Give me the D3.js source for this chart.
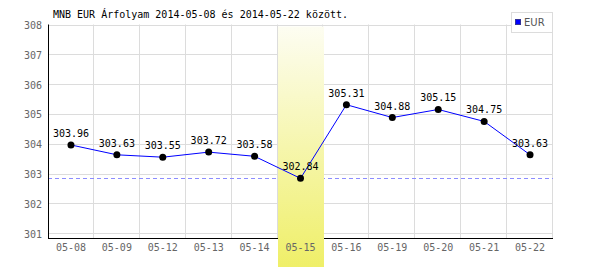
<!DOCTYPE html>
<html>
    <head>
        <meta charset="utf-8">
        <script src="https://cdn.jsdelivr.net/npm/d3@7/dist/d3.min.js"></script>
    </head>
    <style>
        body { margin: 0; background: #fff; }
        text { font-family: 'DejaVu Sans Mono', monospace; font-size: 10px; }
    </style>
    <body>
        <div id="canvas"></div>
        <script>
            var dates = ['05-08', '05-09', '05-12', '05-13', '05-14', '05-15',
                         '05-16', '05-19', '05-20', '05-21', '05-22'];
            var eurRates = [303.96, 303.63, 303.55, 303.72, 303.58, 302.84,
                            305.31, 304.88, 305.15, 304.75, 303.63];
            var yTicks = [301, 302, 303, 304, 305, 306, 307, 308];
            var highlightDate = '05-15';
            var title = 'MNB EUR Árfolyam 2014-05-08 és 2014-05-22 között.';

            const w = 600;
            const h = 270;
            const plotLeft = 48, plotRight = 553, plotTop = 24.5, plotBottom = 238;

            const svg = d3.select('#canvas')
                .append('svg')
                .attr('width', w)
                .attr('height', h);

            const x = d3.scaleBand().domain(dates).range([plotLeft, plotRight]);
            const minRate = d3.min(eurRates);
            const y = d3.scaleLinear()
                .domain([minRate - 2, 308])
                .range([plotBottom, plotTop]);

            const defs = svg.append('defs');
            const grad = defs.append('linearGradient')
                .attr('id', 'hl')
                .attr('x1', 0).attr('y1', 0).attr('x2', 0).attr('y2', 1);
            grad.append('stop').attr('offset', '0%').attr('stop-color', '#fdfdf2');
            grad.append('stop').attr('offset', '100%').attr('stop-color', '#efef68');

            // grid
            svg.selectAll('line.hgrid')
                .data(yTicks)
                .enter()
                .append('line')
                .attr('class', 'hgrid')
                .attr('x1', plotLeft)
                .attr('x2', plotRight)
                .attr('y1', d => Math.round(y(d)) + 0.5)
                .attr('y2', d => Math.round(y(d)) + 0.5)
                .attr('stroke', '#dcdcdc');

            svg.selectAll('line.vgrid')
                .data(dates)
                .enter()
                .append('line')
                .attr('class', 'vgrid')
                .attr('x1', d => Math.round(x(d) + x.bandwidth()) - 0.5)
                .attr('x2', d => Math.round(x(d) + x.bandwidth()) - 0.5)
                .attr('y1', plotTop)
                .attr('y2', plotBottom)
                .attr('stroke', '#dcdcdc');

            // minimum line
            svg.append('line')
                .attr('x1', plotLeft)
                .attr('x2', plotRight)
                .attr('y1', Math.round(y(minRate)) + 0.5)
                .attr('y2', Math.round(y(minRate)) + 0.5)
                .attr('stroke', '#8c8cff')
                .attr('stroke-dasharray', '4,3');

            // axes lines
            svg.append('line')
                .attr('x1', plotLeft + 0.5).attr('x2', plotLeft + 0.5)
                .attr('y1', plotTop).attr('y2', plotBottom + 1)
                .attr('stroke', '#000');
            svg.append('line')
                .attr('x1', plotLeft).attr('x2', plotRight)
                .attr('y1', plotBottom + 0.5).attr('y2', plotBottom + 0.5)
                .attr('stroke', '#000');

            // highlighted day
            svg.append('rect')
                .attr('x', Math.round(x(highlightDate)))
                .attr('y', plotTop + 2)
                .attr('width', Math.round(x.bandwidth()))
                .attr('height', 267 - plotTop - 2)
                .attr('fill', 'url(#hl)');

            // tick labels
            svg.selectAll('text.ylab')
                .data(yTicks)
                .enter()
                .append('text')
                .attr('class', 'ylab')
                .attr('x', 42)
                .attr('y', d => y(d) + 4.5)
                .attr('text-anchor', 'end')
                .attr('fill', '#666')
                .text(d => d);

            svg.selectAll('text.xlab')
                .data(dates)
                .enter()
                .append('text')
                .attr('class', 'xlab')
                .attr('x', d => x(d) + x.bandwidth() / 2)
                .attr('y', 251)
                .attr('text-anchor', 'middle')
                .attr('fill', '#666')
                .text(d => d);

            // data line
            const line = d3.line()
                .x((d, i) => x(dates[i]) + x.bandwidth() / 2)
                .y(d => y(d));
            svg.append('path')
                .datum(eurRates)
                .attr('d', line)
                .attr('fill', 'none')
                .attr('stroke', '#0000ff')
                .attr('stroke-width', 1);

            svg.selectAll('circle')
                .data(eurRates)
                .enter()
                .append('circle')
                .attr('cx', (d, i) => x(dates[i]) + x.bandwidth() / 2)
                .attr('cy', d => y(d))
                .attr('r', 3.5)
                .attr('fill', '#000');

            svg.selectAll('text.val')
                .data(eurRates)
                .enter()
                .append('text')
                .attr('class', 'val')
                .attr('x', (d, i) => x(dates[i]) + x.bandwidth() / 2)
                .attr('y', d => y(d) - 8)
                .attr('text-anchor', 'middle')
                .attr('fill', '#000')
                .text(d => d.toFixed(2));

            // title
            svg.append('text')
                .attr('x', 53)
                .attr('y', 18)
                .attr('fill', '#000')
                .text(title);

            // legend
            const lg = svg.append('g');
            lg.append('rect')
                .attr('x', 511.5).attr('y', 12.5)
                .attr('width', 41).attr('height', 20)
                .attr('fill', '#fff')
                .attr('stroke', '#dcdcdc');
            lg.append('rect')
                .attr('x', 515.5).attr('y', 19.5)
                .attr('width', 5).attr('height', 5)
                .attr('fill', '#0000ff')
                .attr('stroke', '#333399');
            lg.append('text')
                .attr('x', 524)
                .attr('y', 26)
                .attr('fill', '#555')
                .style('font-family', 'DejaVu Sans, sans-serif')
                .text('EUR');
        </script>
    </body>
</html>
